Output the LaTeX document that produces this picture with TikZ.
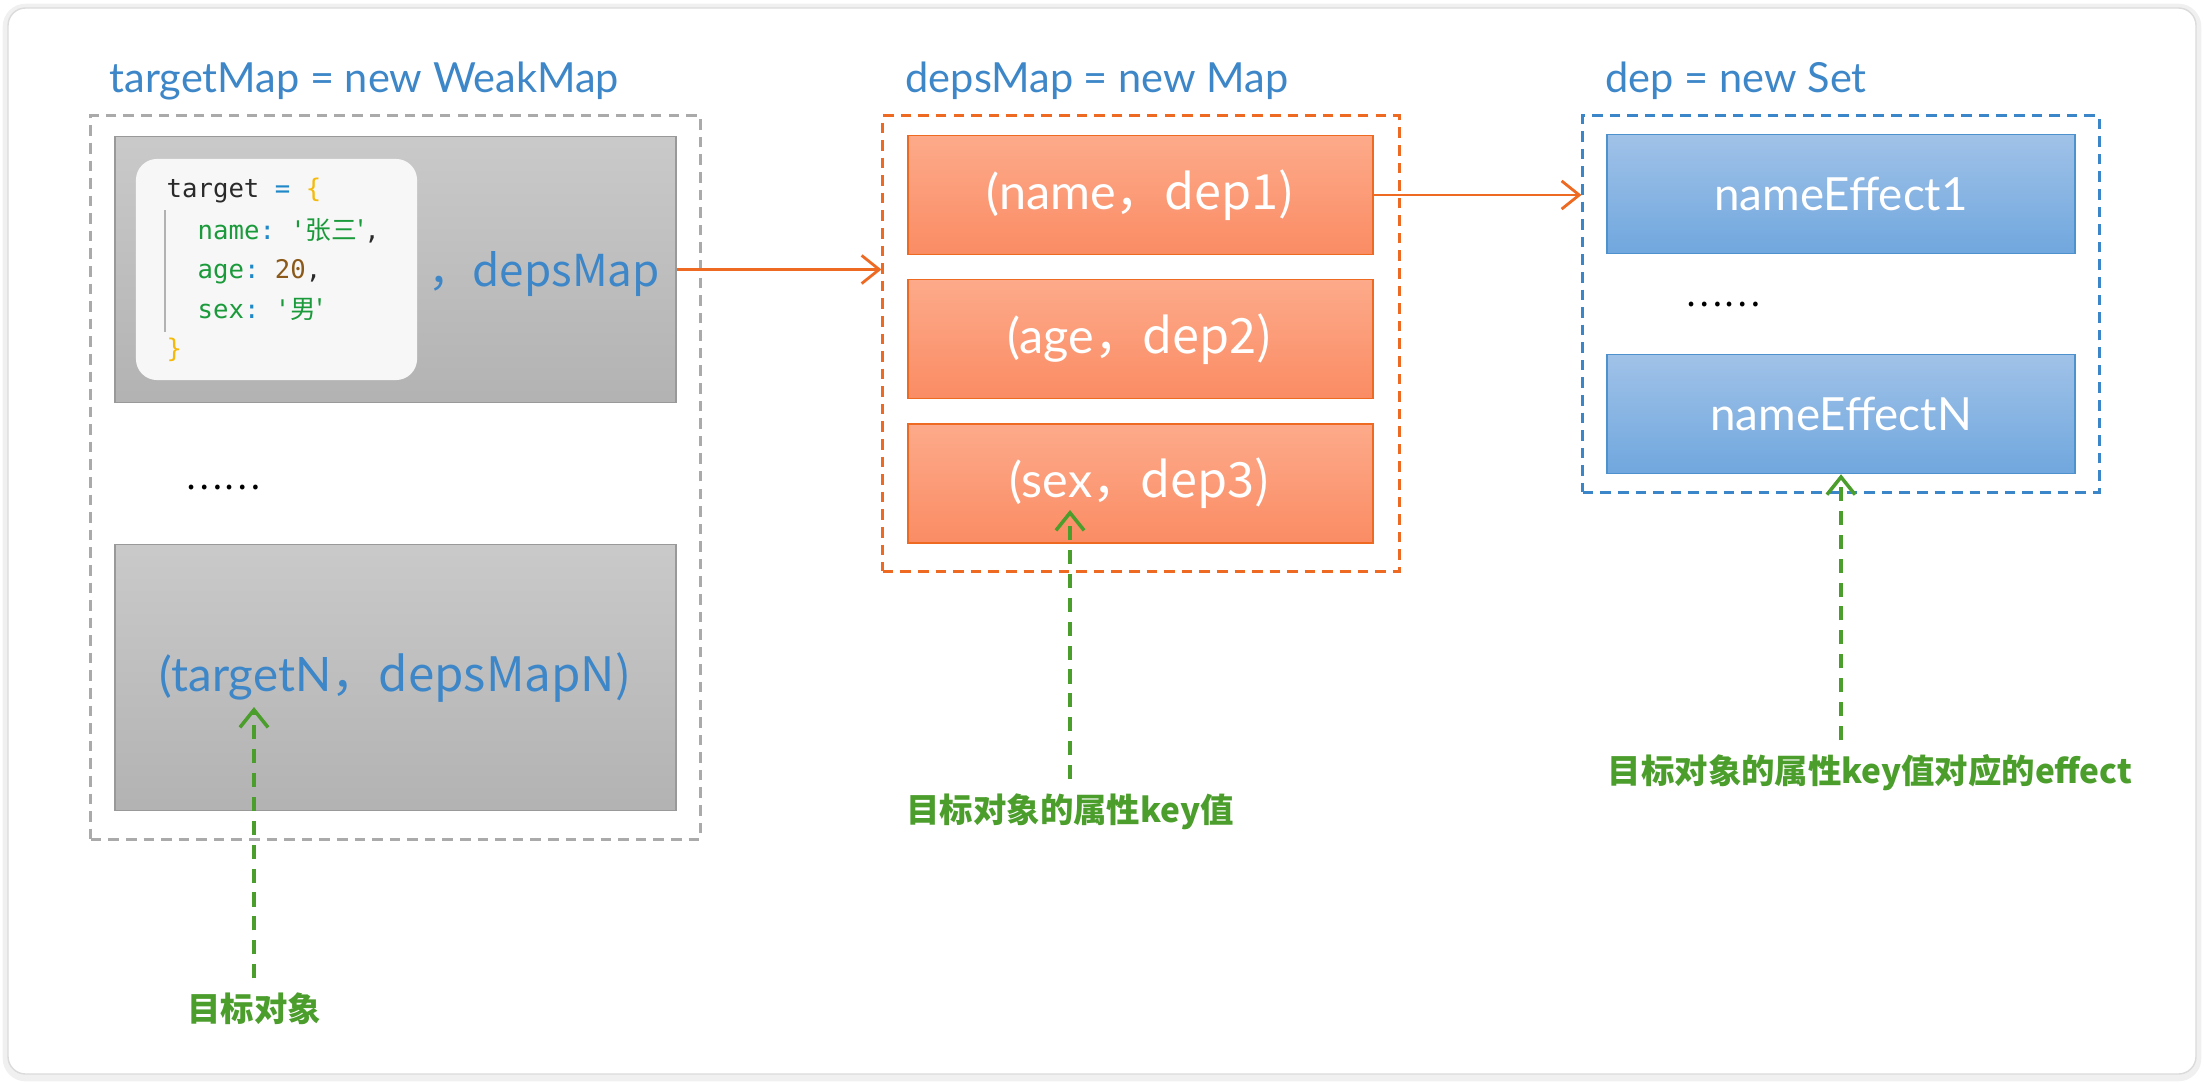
\documentclass[tikz,border=0pt]{standalone}
\usepackage{fontspec}
\setmainfont{Lato}
\setmonofont{DejaVu Sans Mono}
\newfontfamily\cjk{Noto Sans CJK SC}
\usetikzlibrary{arrows.meta}

\definecolor{titleblue}{HTML}{3D87C9}
\definecolor{mapline}{HTML}{AAAAAA}
\definecolor{depline}{HTML}{EE6A22}
\definecolor{deptop}{HTML}{FDAA8A}
\definecolor{depbottom}{HTML}{FA8C64}
\definecolor{setline}{HTML}{3A86C8}
\definecolor{settop}{HTML}{A0C2E8}
\definecolor{setbottom}{HTML}{70A7DE}
\definecolor{keygreen}{HTML}{4C9E2C}
\definecolor{codegreen}{HTML}{1A9A3A}
\definecolor{codeblue}{HTML}{1E88C8}
\definecolor{codeyellow}{HTML}{F5B90A}
\definecolor{codebrown}{HTML}{8B5A1A}
\definecolor{codetext}{HTML}{2A2A2A}

\begin{document}
\begin{tikzpicture}[x=0.01cm,y=-0.01cm,
  title/.style={anchor=base west,inner sep=0,text=titleblue,font=\fontsize{11.8}{14}\selectfont},
  group/.style={draw=#1,line width=0.8pt,dash pattern=on 3pt off 2pt,inner sep=0},
  mapbox/.style={draw=black!40,top color=black!21,bottom color=black!30,inner sep=0,
    minimum width=5.61cm,minimum height=2.66cm,text=titleblue,font=\fontsize{13.5}{16}\selectfont},
  depbox/.style={draw=depline,top color=deptop,bottom color=depbottom,inner sep=0,
    minimum width=4.65cm,minimum height=1.19cm,text=white,font=\fontsize{13.8}{16}\selectfont},
  setbox/.style={draw=setline!90!white,top color=settop,bottom color=setbottom,inner sep=0,
    minimum width=4.68cm,minimum height=1.19cm,text=white,font=\fontsize{13}{16}\selectfont},
  code/.style={anchor=base west,inner sep=0,text=codetext,font=\ttfamily\fontsize{7.3}{9}\selectfont},
  dots/.style={inner sep=0,font=\cjk\fontsize{10}{12}\selectfont},
  keylabel/.style={inner sep=4pt,text=keygreen,font=\cjk\bfseries\fontsize{9.5}{11}\selectfont},
  linkarrow/.style={depline,line width=0.8pt,-{Straight Barb[length=5pt,width=8pt]}},
  keyarrow/.style={keygreen,line width=1pt,dash pattern=on 4pt off 2.8pt,-{Straight Barb[length=5pt,width=8pt]}}]
\useasboundingbox (0,0) rectangle (2204,1082);
\draw[black!6,line width=3pt,rounded corners=5pt] (8,9) rectangle (2196,1076);
\draw[black!14,fill=white,rounded corners=5pt] (8,8) rectangle (2196,1074);

\node[group=mapline,minimum width=6.09cm,minimum height=7.23cm] (mapgroup) at (395.5,477.5) {};
\node[group=depline,minimum width=5.16cm,minimum height=4.55cm] (depsgroup) at (1141,343.5) {};
\node[group=setline,minimum width=5.16cm,minimum height=3.76cm] (setgroup) at (1841,304) {};

\node[title] (maptitle) at (109,93) {targetMap = new WeakMap};
\node[title] (depstitle) at (905,93) {depsMap = new Map};
\node[title] (settitle) at (1605,93) {dep = new Set};

\node[mapbox] (target1) at (395.5,269.5) {};
\node[fill=black!3,rounded corners=6pt,minimum width=2.81cm,minimum height=2.21cm] (card) at (276.5,269.5) {};
\draw[black!30,line width=0.6pt] (165,210) -- (165,332);
\node[code] (line1) at (166,198) {target \textcolor{codeblue}{=} \textcolor{codeyellow}{\{}};
\node[code] (line2) at (197,239) {\textcolor{codegreen}{name}\textcolor{codeblue}{:} \textcolor{codegreen}{'\cjk{张三}'},};
\node[code] (line3) at (197,278) {\textcolor{codegreen}{age}\textcolor{codeblue}{:} \textcolor{codebrown}{20},};
\node[code] (line4) at (197,318) {\textcolor{codegreen}{sex}\textcolor{codeblue}{:} \textcolor{codegreen}{'\cjk{男}'}};
\node[code] (line5) at (166,357) {\textcolor{codeyellow}{\}}};
\node[anchor=west,inner sep=0,text=titleblue,font=\fontsize{12.5}{15}\selectfont] (mapvalue) at (428,274) {\cjk{，}depsMap};
\node[dots] (mapdots) at (223,488) {\cjk{……}};
\node[mapbox] (targetN) at (395.5,677.5) {(targetN\cjk{，}depsMapN)};

\node[depbox] (dep1) at (1140.5,195) {(name\cjk{，}dep1)};
\node[depbox] (dep2) at (1140.5,339) {(age\cjk{，}dep2)};
\node[depbox] (dep3) at (1140.5,483.5) {(sex\cjk{，}dep3)};

\node[setbox] (effect1) at (1841,194) {nameEffect1};
\node[dots] (setdots) at (1723,305) {\cjk{……}};
\node[setbox] (effectN) at (1841,414) {nameEffectN};

\draw[linkarrow] (target1.east) -- (target1.east -| depsgroup.west);
\draw[linkarrow] (dep1.east) -- (dep1.east -| setgroup.west);

\node[keylabel] (objlabel) at (254,1009) {目标对象};
\node[keylabel] (keylabel) at (1070,812) {目标对象的属性key值};
\node[keylabel] (effectlabel) at (1870,773) {目标对象的属性key值对应的effect};
\coordinate (objtip) at (254,707);
\coordinate (keytip) at (1070,510);
\draw[keyarrow] (objlabel.north) -- (objtip);
\draw[keyarrow] (keylabel.north) -- (keytip);
\draw[keyarrow] (effectlabel.north -| effectN.south) -- (effectN.south);
\end{tikzpicture}
\end{document}
